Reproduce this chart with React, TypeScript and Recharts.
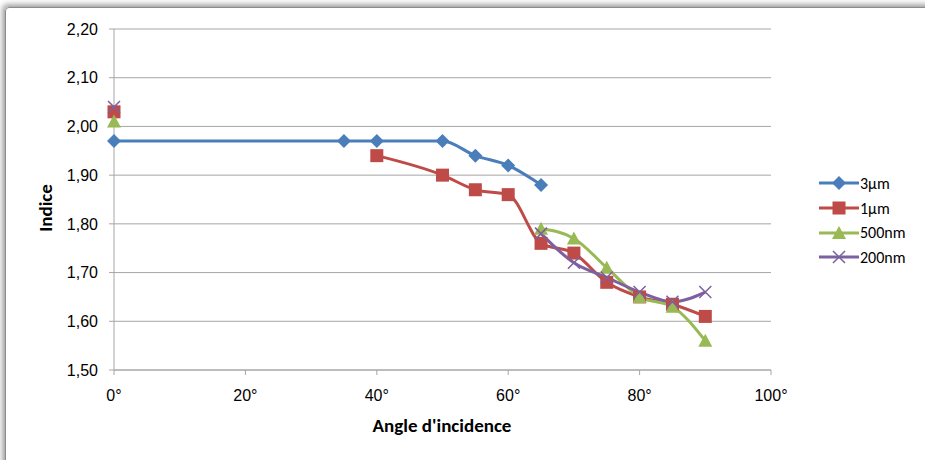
import React from "react";
import { LineChart, Line, XAxis, YAxis, CartesianGrid } from "recharts";

const angles3um = [0, 35, 40, 50, 55, 60, 65];
const values3um = [1.97, 1.97, 1.97, 1.97, 1.94, 1.92, 1.88];

const angles1um = [0, 40, 50, 55, 60, 65, 70, 75, 80, 85, 90];
const values1um = [2.03, 1.94, 1.9, 1.87, 1.86, 1.76, 1.74, 1.68, 1.65, 1.635, 1.61];

const angles500nm = [0, 65, 70, 75, 80, 85, 90];
const values500nm = [2.01, 1.79, 1.77, 1.71, 1.65, 1.63, 1.56];

const angles200nm = [0, 65, 70, 75, 80, 85, 90];
const values200nm = [2.04, 1.78, 1.72, 1.69, 1.66, 1.64, 1.66];

const xTicks = [0, 20, 40, 60, 80, 100];
const yTicks = [1.5, 1.6, 1.7, 1.8, 1.9, 2.0, 2.1, 2.2];

const FONT = "Carlito, 'Liberation Sans Narrow', Roboto, sans-serif";
const TICK_FONT = "'Liberation Sans', Arial, sans-serif";
const AXIS = "#a6a6a6";

const toPoints = (xs: number[], ys: number[]) => xs.map((x, i) => ({ x, y: ys[i] }));

const Diamond = ({ cx, cy, fill }: any) => (
    <path d={`M${cx},${cy - 7} L${cx + 7},${cy} L${cx},${cy + 7} L${cx - 7},${cy} Z`} fill={fill} />
);
const Square = ({ cx, cy, fill }: any) => (
    <rect x={cx - 6.5} y={cy - 6.5} width={13} height={13} fill={fill} />
);
const Triangle = ({ cx, cy, fill }: any) => (
    <path d={`M${cx},${cy - 7} L${cx + 7},${cy + 6} L${cx - 7},${cy + 6} Z`} fill={fill} />
);
const Cross = ({ cx, cy, fill }: any) => (
    <path d={`M${cx - 6},${cy - 6} L${cx + 6},${cy + 6} M${cx + 6},${cy - 6} L${cx - 6},${cy + 6}`} stroke={fill} strokeWidth={1.5} fill="none" />
);

// the 0° point is a separate measurement for the three smaller sizes (not joined by a line)
const series = [
    { name: "3µm", color: "#4a7ebb", data: toPoints(angles3um, values3um), isolatedFirst: false, Marker: Diamond },
    { name: "1µm", color: "#be4b48", data: toPoints(angles1um, values1um), isolatedFirst: true, Marker: Square },
    { name: "500nm", color: "#98b954", data: toPoints(angles500nm, values500nm), isolatedFirst: true, Marker: Triangle },
    { name: "200nm", color: "#7d60a0", data: toPoints(angles200nm, values200nm), isolatedFirst: true, Marker: Cross },
];

export default function App() {
    return (
        <div style={{ position: "absolute", left: 0, top: 0, width: 925, height: 460, background: "#fff", overflow: "hidden", fontFamily: FONT }}>
            <div
                style={{
                    position: "absolute",
                    left: 5,
                    top: 7,
                    width: 940,
                    height: 470,
                    border: "1px solid #8c8c8c",
                    borderRadius: 4,
                    boxShadow: "-2px -2px 6px rgba(0,0,0,0.45)",
                }}
            />
            <div style={{ position: "absolute", left: 0, top: 0 }}>
                <LineChart width={925} height={460} margin={{ top: 29, right: 154, left: 54, bottom: 60 }}>
                    <CartesianGrid vertical={false} stroke={AXIS} strokeWidth={1} />
                    <XAxis
                        type="number"
                        dataKey="x"
                        domain={[0, 100]}
                        ticks={xTicks}
                        tickFormatter={(v) => `${v}°`}
                        stroke={AXIS}
                        tickSize={5}
                        tickMargin={15}
                        height={30}
                        tick={{ fill: "#000", fontSize: 16, fontFamily: TICK_FONT }}
                    />
                    <YAxis
                        type="number"
                        domain={[1.5, 2.2]}
                        ticks={yTicks}
                        tickFormatter={(v) => v.toFixed(2).replace(".", ",")}
                        stroke={AXIS}
                        tickSize={5}
                        tickMargin={11}
                        width={60}
                        tick={{ fill: "#000", fontSize: 16, fontFamily: TICK_FONT }}
                    />
                    {series.flatMap((s) => {
                        const parts = s.isolatedFirst ? [s.data.slice(0, 1), s.data.slice(1)] : [s.data];
                        return parts.map((part, k) => (
                            <Line
                                key={`${s.name}-${k}`}
                                data={part}
                                dataKey="y"
                                name={s.name}
                                type="monotone"
                                stroke={s.color}
                                strokeWidth={3}
                                isAnimationActive={false}
                                dot={(p: any) => <s.Marker key={`${s.name}-${k}-${p.index}`} cx={p.cx} cy={p.cy} fill={s.color} />}
                                activeDot={false}
                            />
                        ));
                    })}
                </LineChart>
            </div>
            <div style={{ position: "absolute", left: 442, top: 425, transform: "translate(-50%, -50%)", fontWeight: "bold", fontSize: 19, whiteSpace: "nowrap" }}>
                Angle d'incidence
            </div>
            <div style={{ position: "absolute", left: 45, top: 208, transform: "translate(-50%, -50%) rotate(-90deg)", fontWeight: "bold", fontSize: 19, whiteSpace: "nowrap" }}>
                Indice
            </div>
            <div style={{ position: "absolute", left: 818, top: 171 }}>
                {series.map((s) => (
                    <div key={s.name} style={{ display: "flex", alignItems: "center", height: 24.7, fontSize: 16 }}>
                        <svg width={42} height={16}>
                            <line x1={1} y1={8} x2={41} y2={8} stroke={s.color} strokeWidth={3} />
                            <s.Marker cx={21} cy={8} fill={s.color} />
                        </svg>
                        <span>{s.name}</span>
                    </div>
                ))}
            </div>
        </div>
    );
}
